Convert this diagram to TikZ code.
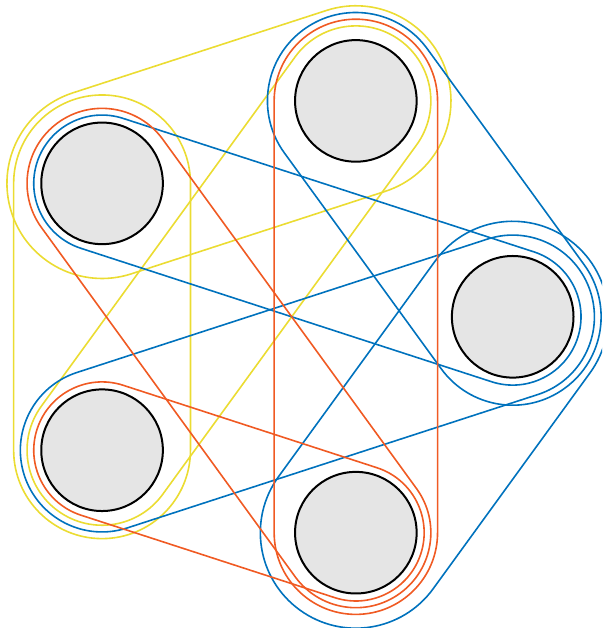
\documentclass[tikz,border=0pt]{standalone}
\usetikzlibrary{calc}
\definecolor{hyY}{RGB}{235,220,50}
\definecolor{hyO}{RGB}{240,90,35}
\definecolor{hyB}{RGB}{0,114,189}
\definecolor{nodegray}{RGB}{229,229,229}
\tikzset{
  vertex/.style={circle, draw=black, line width=2pt, fill=nodegray,
    minimum size=121.6pt, inner sep=0pt, outer sep=0pt},
  hull/.style={line width=1.6pt, line join=round},
}
\newcommand\capsule[4]{%
  \draw[hull,#1] let \p1=(#2.center), \p2=(#3.center),
      \n1={atan2(\y2-\y1,\x2-\x1)} in
    ($(\p1)+(\n1+90:#4)$) -- ($(\p2)+(\n1+90:#4)$)
    arc[start angle=\n1+90, end angle=\n1-90, radius=#4]
    -- ($(\p1)+(\n1-90:#4)$)
    arc[start angle=\n1-90, end angle=\n1-270, radius=#4] -- cycle;
}
\begin{document}
\begin{tikzpicture}
\useasboundingbox (0,0) rectangle (602pt,628pt);
\clip (0,0) rectangle (602pt,628pt);
\begin{scope}[shift={(285.7pt,311.2pt)}]
  \node[vertex] (C) at (0:227pt) {};
  \node[vertex] (B) at (72:227pt) {};
  \node[vertex] (A) at (144:227pt) {};
  \node[vertex] (D) at (216:227pt) {};
  \node[vertex] (E) at (288:227pt) {};
\end{scope}
% yellow hyperedges
\capsule{hyY}{A}{B}{95.1pt}
\capsule{hyY}{A}{D}{88.4pt}
\capsule{hyY}{B}{D}{75.0pt}
% blue hyperedges
\capsule{hyB}{A}{C}{68.3pt}
\capsule{hyB}{D}{C}{81.7pt}
\capsule{hyB}{B}{C}{88.4pt}
\capsule{hyB}{C}{E}{95.5pt}
% orange hyperedges
\capsule{hyO}{B}{E}{81.7pt}
\capsule{hyO}{A}{E}{75.0pt}
\capsule{hyO}{D}{E}{68.3pt}
\end{tikzpicture}
\end{document}
